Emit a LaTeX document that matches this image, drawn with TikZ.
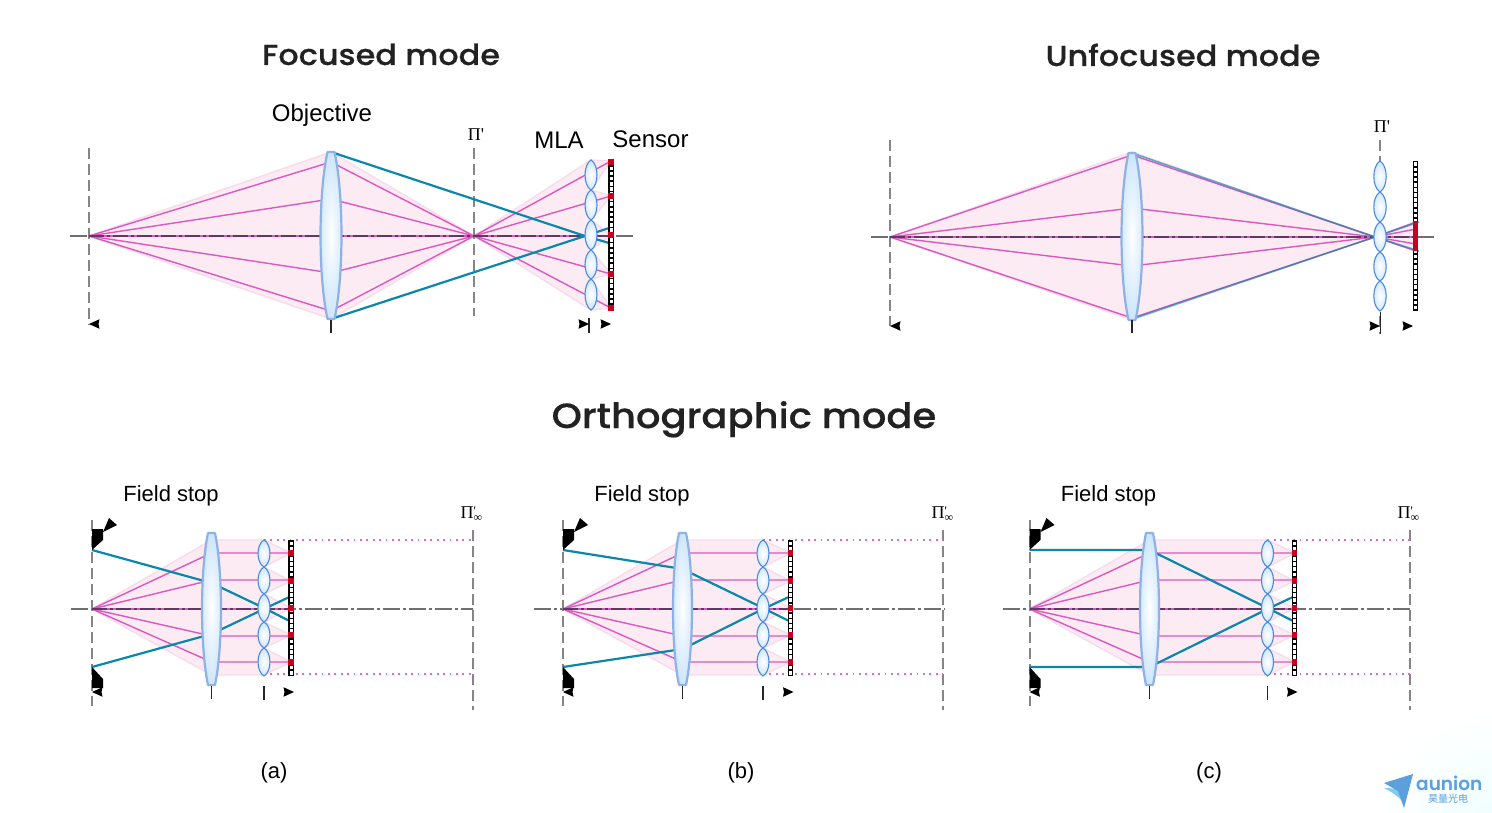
\documentclass[tikz,border=0pt]{standalone}
\usepackage{fontspec}
\setmainfont{Liberation Sans}
\newfontfamily\serifsym{Liberation Serif}
\newfontfamily\titlefont{Poppins Medium}[FakeStretch=1.1,FakeBold=0.4]
\newfontfamily\logofont{Poppins SemiBold}
\newfontfamily\cjkfont{Noto Sans CJK SC}
\definecolor{raypink}{HTML}{DB58C0}
\definecolor{fillpink}{HTML}{FDEBF3}
\definecolor{edgepink}{HTML}{F6DCEC}
\definecolor{rayblue}{HTML}{0A87AB}
\definecolor{lensedge}{HTML}{8FB2E6}
\definecolor{mlaedge}{HTML}{4A8ADB}
\definecolor{lensfill}{HTML}{CDE6FC}
\definecolor{axgray}{HTML}{707070}
\definecolor{axdark}{HTML}{5E3A63}
\definecolor{senred}{HTML}{C8001E}
\definecolor{logoblue}{HTML}{5B9FDC}
\definecolor{logolight}{HTML}{7CCDF0}
\definecolor{titleink}{HTML}{222222}
\tikzset{
  planeline/.style={draw=axgray!85,line width=2pt,dash pattern=on 11pt off 5pt},
  axisline/.style={draw=axgray,line width=1.5pt,dash pattern=on 17pt off 3pt on 3pt off 3pt},
  axisdark/.style={draw=axdark,line width=1.8pt,dash pattern=on 15pt off 3pt on 3pt off 3pt},
  raymag/.style={draw=raypink,line width=1.4pt},
  rayb/.style={draw=rayblue,line width=2.2pt},
  pinkzone/.style={fill=fillpink,draw=edgepink,line width=1.4pt,line join=round},
  tickline/.style={draw=black!85,line width=1.2pt},
  dotline/.style={draw=raypink!90,line width=1.7pt,dash pattern=on 1.8pt off 4.6pt},
  lbl/.style={inner sep=0pt,text=black,font=\fontsize{24}{28}\selectfont},
  lblsmall/.style={inner sep=0pt,text=black,font=\fontsize{22}{26}\selectfont},
  pilbl/.style={inner sep=0pt,text=black,font=\serifsym\fontsize{18}{20}\selectfont},
  titlelbl/.style={inner sep=0pt,anchor=base,text=titleink,font=\titlefont\fontsize{29}{32}\selectfont},
}
% big lens: cx, top, bottom, half width
\newcommand{\biglens}[4]{%
  \shade[inner color=white,outer color=lensfill,draw=lensedge,line width=2.2pt,line join=round]
    ({#1-3.5},#2) -- ({#1+3.5},#2)
    .. controls ({#1+3.5+(#4-3.5)*1.33},{#2+(#3-#2)*0.25}) and ({#1+3.5+(#4-3.5)*1.33},{#2+(#3-#2)*0.75}) .. ({#1+3.5},#3)
    -- ({#1-3.5},#3)
    .. controls ({#1-3.5-(#4-3.5)*1.33},{#2+(#3-#2)*0.75}) and ({#1-3.5-(#4-3.5)*1.33},{#2+(#3-#2)*0.25}) .. ({#1-3.5},#2) -- cycle;}
% small lens: cx, top, bottom, half width
\newcommand{\minilens}[4]{%
  \shade[inner color=white,outer color=lensfill,draw=mlaedge,line width=1.1pt]
    (#1,#2) .. controls ({#1+#4*1.33},{#2+(#3-#2)*0.16}) and ({#1+#4*1.33},{#2+(#3-#2)*0.84}) .. (#1,#3)
    .. controls ({#1-#4*1.33},{#2+(#3-#2)*0.84}) and ({#1-#4*1.33},{#2+(#3-#2)*0.16}) .. (#1,#2) -- cycle;}
% sensor: x, top, bottom
\newcommand{\sensorbar}[3]{%
  \fill[black] ({#1-2.7},#2) rectangle ({#1+2.7},#3);
  \pgfmathsetmacro{\sn}{int((#3-#2-1.5)/5)}
  \pgfmathsetmacro{\sd}{(#3-#2-1.5)/\sn}
  \foreach \k in {1,...,\sn}{
    \fill[white] ({#1-1.5},{#2+1.5+(\k-1)*\sd}) rectangle ({#1+1.5},{#2+\k*\sd});
  }}
\newcommand{\redmark}[2]{\fill[senred] ({#1-2.8},{#2-2.8}) rectangle ({#1+2.8},{#2+2.8});}
\newcommand{\arrleft}[2]{\fill[black] (#1,#2) -- ({#1+10.5},{#2-4.8}) -- ({#1+9.5},#2) -- ({#1+10.5},{#2+4.8}) -- cycle;}
\newcommand{\arrright}[2]{\fill[black] (#1,#2) -- ({#1-10.5},{#2-4.8}) -- ({#1-9.5},#2) -- ({#1-10.5},{#2+4.8}) -- cycle;}
% orthographic panel: plane, lens, mla, sensor, pi, axis left, blue y upper at lens, blue y lower at lens, axis right
\newcommand{\orthopanel}[9]{%
  \draw[axisline] (#6,609) -- (#9,609);
  \path[pinkzone] (#1,609) -- (#2,540) -- (#3,540) -- (#4,553) -- (#3,567) -- (#4,581) -- (#3,594) -- (#4,608) -- (#3,622) -- (#4,635) -- (#3,648) -- (#4,662) -- (#3,675) -- (#2,675) -- cycle;
  \draw[planeline] (#1,520) -- (#1,706);
  \draw[planeline] (#5,530) -- (#5,710);
  \draw[dotline] (#3,540) -- (#5,540);
  \draw[dotline] (#3,674) -- (#5,674);
  \foreach \yy in {553,580,636,662}{
    \draw[raymag] (#1,609) -- (#2,\yy) -- (#4,\yy);
  }
  \draw[draw=raypink,line width=1.8pt] (#1,609) -- (#4,609);
  \draw[axisdark] (#1,609) -- (#4,609);
  \draw[rayb] (#1,550) -- (#2,#7) -- (#3,608) -- ({#4+0.5},622);
  \draw[rayb] (#1,667) -- (#2,#8) -- (#3,609) -- ({#4+0.5},596);
  \biglens{#2}{533}{685}{9.5}
  \minilens{#3}{540}{567}{6}
  \minilens{#3}{567}{594}{6}
  \minilens{#3}{594}{622}{6}
  \minilens{#3}{622}{648}{6}
  \minilens{#3}{648}{676}{6}
  \sensorbar{#4}{540}{676}
  \foreach \yy in {553,581,608,635,662}{\redmark{#4}{\yy}}
  \fill[black] (#1,529) -- ({#1+11},529) -- ({#1+11},540) -- (#1,550) -- cycle;
  \fill[black] (#1,667) -- ({#1+11},679) -- ({#1+11},688) -- (#1,688) -- cycle;
  \fill[black] ({#1+11},532) -- ({#1+17},518) -- ({#1+25},525) -- cycle;
  \draw[tickline] (#2,686) -- (#2,699);
  \draw[tickline] (#3,686) -- (#3,700);
  \arrleft{#1}{692}
  \pgfmathsetmacro{\arx}{#4+3}
  \arrright{\arx}{692}
}
\begin{document}
\begin{tikzpicture}[x=1pt,y=-1pt]
\useasboundingbox (0,0) rectangle (1492,813);
\fill[white] (0,0) rectangle (1492,813);
\begin{scope}
\clip (1380,710) rectangle (1492,813);
\shade[inner color=blue!4!cyan!6!white,outer color=white,draw=none] (1380,710) rectangle (1600,920);
\end{scope}

% ---------- Focused mode
\draw[axisline] (70,236) -- (634,236);
\path[pinkzone] (89,236) -- (331,152) -- (474,236) -- (331,319) -- cycle;
\path[pinkzone] (474,236) -- (591,160) -- (611,161) -- (591,190) -- (611,196) -- (591,220) -- (611,235) -- (591,250) -- (611,274) -- (591,279) -- (611,308) -- (591,310) -- cycle;
\draw[planeline] (89,148) -- (89,325);
\draw[planeline] (474,148) -- (474,316);
\foreach \yy/\sy in {162/161,199/196,273/274,311/308}{
  \draw[raymag] (89,236) -- (331,\yy) -- (474,236) -- (611,\sy);
}
\draw[draw=raypink,line width=1.8pt] (89,236) -- (611,236);
\draw[axisdark] (89,236) -- (611,236);
\draw[rayb] (331,152) -- (585,236) -- (609,243);
\draw[rayb] (331,319) -- (585,236) -- (609,228);
\biglens{331}{152}{319}{10.5}
\minilens{591}{160}{190}{6}
\minilens{591}{190}{220}{6}
\minilens{591}{220}{250}{6}
\minilens{591}{250}{279}{6}
\minilens{591}{279}{310}{6}
\sensorbar{611}{160}{310}
\foreach \yy in {162,196,235,274,308}{\redmark{611}{\yy}}
\draw[tickline] (331,320) -- (331,333);
\draw[tickline] (589,318) -- (589,333);
\arrleft{89}{324}
\arrright{589}{324}
\arrright{611}{324}

% ---------- Unfocused mode
\draw[axisline] (871,237) -- (1436,237);
\path[pinkzone] (890,237) -- (1132,152) -- (1375,237) -- (1132,320) -- cycle;
\path[pinkzone] (1375,237) -- (1416,222) -- (1416,251) -- cycle;
\draw[planeline] (890,140) -- (890,326);
\draw[planeline] (1380,140) -- (1380,334);
\foreach \yy in {155,208,266,318}{
  \draw[raymag] (890,237) -- (1132,\yy) -- (1375,237);
}
\foreach \yy in {222,229,244,251}{
  \draw[raymag] (1375,237) -- (1416,\yy);
}
\draw[draw=raypink,line width=1.8pt] (890,237) -- (1416,237);
\draw[axisdark] (890,237) -- (1416,237);
\draw[rayb,opacity=0.65,line width=1.6pt] (1132,153) -- (1375,237) -- (1419,251);
\draw[rayb,opacity=0.65,line width=1.6pt] (1132,319) -- (1375,237) -- (1419,222);
\biglens{1132}{153}{320}{10.5}
\minilens{1380}{161}{192}{6.2}
\minilens{1380}{192}{222}{6.2}
\minilens{1380}{222}{252}{6.2}
\minilens{1380}{252}{281}{6.2}
\minilens{1380}{281}{311}{6.2}
\sensorbar{1415.5}{161}{311}
\fill[senred] (1412.8,221) rectangle (1418.2,251);
\draw[tickline] (1132,320) -- (1132,333);
\draw[tickline] (1380.5,312) -- (1380.5,334);
\arrleft{890}{326}
\arrright{1380}{326}
\arrright{1413}{326}

% ---------- Orthographic panels
\orthopanel{92}{211.5}{264}{291}{473}{71}{583}{634}{473}
\orthopanel{563}{682.5}{763}{790.5}{943}{534}{569}{649}{945}
\orthopanel{1029.5}{1149.5}{1267.5}{1294.5}{1410}{1003}{550}{667}{1410}

% ---------- Texts
\node[titlelbl] (tfocus) at (381,65) {Focused mode};
\node[titlelbl] (tunfocus) at (1183,66) {Unfocused mode};
\node[titlelbl,font=\titlefont\fontsize{35}{38}\selectfont] (tortho) at (744,428) {Orthographic mode};
\node[lbl] (objective) at (322,115) {Objective};
\node[lbl] (mla) at (559,140.5) {MLA};
\node[lbl] (sensor) at (650.5,139) {Sensor};
\node[pilbl] (pia) at (476,135) {Π'};
\node[pilbl] (pib) at (1382,127) {Π'};
\newcommand{\pinf}{Π\rlap{\raisebox{3pt}{\fontsize{13}{13}\selectfont '}}\raisebox{-3.5pt}{\fontsize{12}{12}\selectfont ∞}}
\node[pilbl] (pic) at (471.5,514) {\pinf};
\node[pilbl] (pid) at (942.5,514) {\pinf};
\node[pilbl] (pie) at (1408.5,514) {\pinf};
\node[lblsmall] (fsa) at (171,496) {Field stop};
\node[lblsmall] (fsb) at (642,496) {Field stop};
\node[lblsmall] (fsc) at (1108.5,496) {Field stop};
\node[lblsmall] (capa) at (274,773) {(a)};
\node[lblsmall] (capb) at (741,773) {(b)};
\node[lblsmall] (capc) at (1209,773) {(c)};

% ---------- Logo
\fill[logolight] (1384,788) .. controls (1394,788) and (1400,790) .. (1403,791) -- (1404,803) .. controls (1399,797) and (1392,792) .. (1384,788) -- cycle;
\fill[logoblue] (1384,783) -- (1413,774) -- (1404,808) -- (1398,791) -- cycle;
\node[inner sep=0pt,anchor=base west,text=logoblue,font=\logofont\fontsize{18.5}{20}\selectfont] (logotext) at (1416,790) {aunion};
\node[inner sep=0pt,anchor=center,text=logoblue,font=\cjkfont\fontsize{10}{11}\selectfont] (logocjk) at (1448,798.5) {昊量光电};
\end{tikzpicture}
\end{document}
